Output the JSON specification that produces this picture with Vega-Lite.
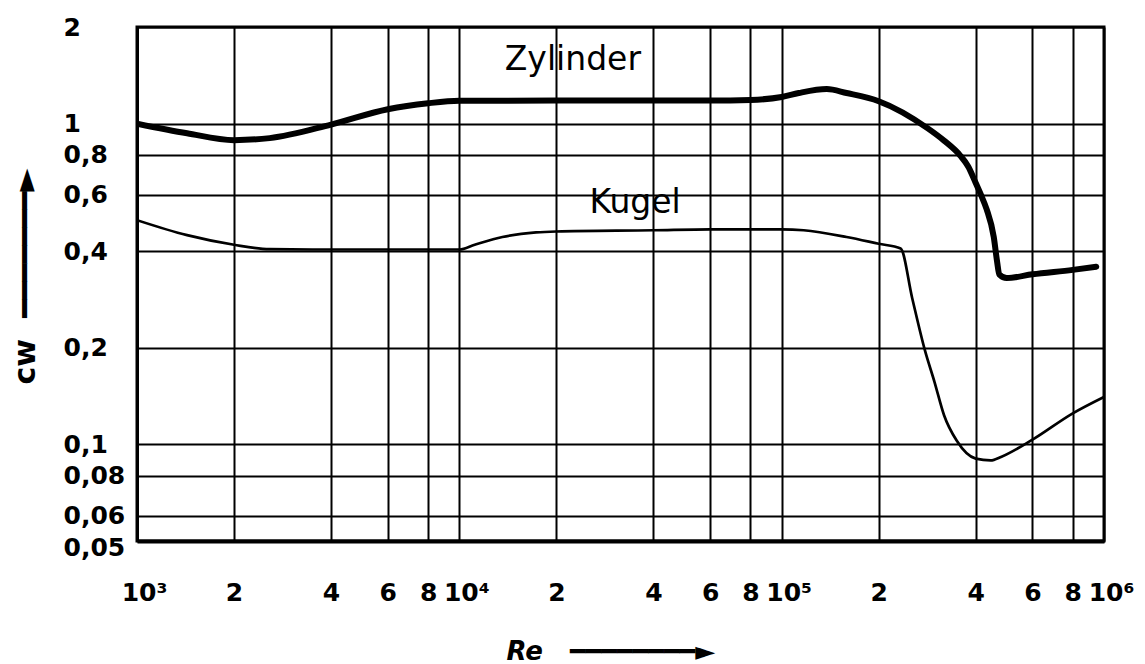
{
  "$schema": "https://vega.github.io/schema/vega-lite/v6.json",
  "width": 967,
  "height": 514,
  "autosize": {"type": "none"},
  "padding": {"left": 137, "top": 27, "right": 41, "bottom": 123},
  "background": "white",
  "config": {
    "view": {"stroke": "black", "strokeWidth": 3},
    "font": "DejaVu Sans"
  },
  "datasets": {
    "curves": [
      {"series": "Zylinder", "Re": 1000, "cw": 1.0},
      {"series": "Zylinder", "Re": 1430, "cw": 0.933},
      {"series": "Zylinder", "Re": 2000, "cw": 0.888},
      {"series": "Zylinder", "Re": 2580, "cw": 0.901},
      {"series": "Zylinder", "Re": 4000, "cw": 0.993},
      {"series": "Zylinder", "Re": 6000, "cw": 1.108},
      {"series": "Zylinder", "Re": 8000, "cw": 1.157},
      {"series": "Zylinder", "Re": 10000, "cw": 1.178},
      {"series": "Zylinder", "Re": 20000, "cw": 1.18},
      {"series": "Zylinder", "Re": 40000, "cw": 1.18},
      {"series": "Zylinder", "Re": 60000, "cw": 1.18},
      {"series": "Zylinder", "Re": 80000, "cw": 1.185},
      {"series": "Zylinder", "Re": 100000, "cw": 1.21},
      {"series": "Zylinder", "Re": 113000, "cw": 1.245},
      {"series": "Zylinder", "Re": 138000, "cw": 1.281},
      {"series": "Zylinder", "Re": 159000, "cw": 1.245},
      {"series": "Zylinder", "Re": 200000, "cw": 1.174},
      {"series": "Zylinder", "Re": 284000, "cw": 0.966},
      {"series": "Zylinder", "Re": 319000, "cw": 0.885},
      {"series": "Zylinder", "Re": 358000, "cw": 0.795},
      {"series": "Zylinder", "Re": 379000, "cw": 0.735},
      {"series": "Zylinder", "Re": 400000, "cw": 0.653},
      {"series": "Zylinder", "Re": 416000, "cw": 0.597},
      {"series": "Zylinder", "Re": 432000, "cw": 0.542},
      {"series": "Zylinder", "Re": 455000, "cw": 0.443},
      {"series": "Zylinder", "Re": 466000, "cw": 0.371},
      {"series": "Zylinder", "Re": 473000, "cw": 0.339},
      {"series": "Zylinder", "Re": 499000, "cw": 0.33},
      {"series": "Zylinder", "Re": 600000, "cw": 0.339},
      {"series": "Zylinder", "Re": 800000, "cw": 0.35},
      {"series": "Zylinder", "Re": 946000, "cw": 0.358},
      {"series": "Kugel", "Re": 1000, "cw": 0.5},
      {"series": "Kugel", "Re": 1430, "cw": 0.449},
      {"series": "Kugel", "Re": 2000, "cw": 0.419},
      {"series": "Kugel", "Re": 2580, "cw": 0.406},
      {"series": "Kugel", "Re": 4000, "cw": 0.405},
      {"series": "Kugel", "Re": 6000, "cw": 0.405},
      {"series": "Kugel", "Re": 8000, "cw": 0.405},
      {"series": "Kugel", "Re": 10000, "cw": 0.405},
      {"series": "Kugel", "Re": 11160, "cw": 0.419},
      {"series": "Kugel", "Re": 13600, "cw": 0.443},
      {"series": "Kugel", "Re": 17300, "cw": 0.458},
      {"series": "Kugel", "Re": 20000, "cw": 0.461},
      {"series": "Kugel", "Re": 40000, "cw": 0.465},
      {"series": "Kugel", "Re": 60000, "cw": 0.468},
      {"series": "Kugel", "Re": 100000, "cw": 0.468},
      {"series": "Kugel", "Re": 117000, "cw": 0.465},
      {"series": "Kugel", "Re": 159000, "cw": 0.443},
      {"series": "Kugel", "Re": 200000, "cw": 0.422},
      {"series": "Kugel", "Re": 234000, "cw": 0.408},
      {"series": "Kugel", "Re": 254000, "cw": 0.286},
      {"series": "Kugel", "Re": 278000, "cw": 0.197},
      {"series": "Kugel", "Re": 298000, "cw": 0.1565},
      {"series": "Kugel", "Re": 319000, "cw": 0.1233},
      {"series": "Kugel", "Re": 349000, "cw": 0.1028},
      {"series": "Kugel", "Re": 400000, "cw": 0.0903},
      {"series": "Kugel", "Re": 445000, "cw": 0.0892},
      {"series": "Kugel", "Re": 481000, "cw": 0.0916},
      {"series": "Kugel", "Re": 600000, "cw": 0.1035},
      {"series": "Kugel", "Re": 800000, "cw": 0.125},
      {"series": "Kugel", "Re": 1000000, "cw": 0.1406}
    ],
    "labels": [
      {"label": "Zylinder", "Re": 22500, "cw": 1.469},
      {"label": "Kugel", "Re": 35100, "cw": 0.526}
    ]
  },
  "layer": [
    {
      "data": {"name": "curves"},
      "mark": {"type": "line", "interpolate": "monotone", "color": "black", "strokeCap": "round", "strokeJoin": "round", "clip": true},
      "encoding": {
        "x": {
          "field": "Re", "type": "quantitative",
          "scale": {"type": "log", "domain": [1000, 1000000], "nice": false},
          "axis": {
            "values": [1000, 2000, 4000, 6000, 8000, 10000, 20000, 40000, 60000, 80000, 100000, 200000, 400000, 600000, 800000, 1000000],
            "labelExpr": "datum.value == 1000 ? '10³' : datum.value == 10000 ? '10⁴' : datum.value == 100000 ? '10⁵' : datum.value == 1000000 ? '10⁶' : '' + round(datum.value / pow(10, floor(log(datum.value * 1.0001) / LN10)))",
            "labelOffset": {"condition": {"test": "datum.value == 1000 || datum.value == 10000 || datum.value == 100000 || datum.value == 1000000", "value": 7}, "value": 0},
            "labelFont": "DejaVu Sans",
            "labelFontWeight": "bold",
            "labelFontSize": 25,
            "labelColor": "black",
            "labelBaseline": "middle",
            "labelPadding": 51,
            "labelFlush": false,
            "labelOverlap": false,
            "ticks": false,
            "domain": true,
            "domainColor": "black",
            "domainWidth": 4,
            "grid": true,
            "gridColor": "black",
            "gridWidth": 2,
            "gridOpacity": 1,
            "title": "Re\u00a0\u00a0\u00a0━━━━━━━━►",
            "titleFont": "DejaVu Sans",
            "titleFontStyle": "italic",
            "titleFontWeight": "bold",
            "titleFontSize": 26,
            "titleColor": "black",
            "titleAlign": "left",
            "titleBaseline": "middle",
            "titleX": 369,
            "titleY": 110
          }
        },
        "y": {
          "field": "cw", "type": "quantitative",
          "scale": {"type": "log", "domain": [0.05, 2], "nice": false},
          "axis": {
            "values": [0.05, 0.06, 0.08, 0.1, 0.2, 0.4, 0.6, 0.8, 1, 2],
            "labelExpr": "replace('' + datum.value, '.', ',')",
            "labelOffset": {"condition": {"test": "datum.value < 0.055", "value": 6}, "value": 0},
            "labelFont": "DejaVu Sans",
            "labelFontWeight": "bold",
            "labelFontSize": 25,
            "labelColor": "black",
            "labelAlign": "left",
            "labelBaseline": "middle",
            "labelPadding": 74,
            "labelFlush": false,
            "labelOverlap": false,
            "ticks": false,
            "domain": true,
            "domainColor": "black",
            "domainWidth": 3,
            "grid": true,
            "gridColor": "black",
            "gridWidth": 2,
            "gridOpacity": 1,
            "title": "cw\u00a0\u00a0━━━━━━━►",
            "titleFont": "DejaVu Sans",
            "titleFontWeight": "bold",
            "titleFontSize": 30,
            "titleColor": "black",
            "titleAngle": 270,
            "titleAlign": "center",
            "titleBaseline": "middle",
            "titleX": -112,
            "titleY": 249
          }
        },
        "detail": {"field": "series"},
        "strokeWidth": {
          "field": "series", "type": "nominal",
          "scale": {"domain": ["Zylinder", "Kugel"], "range": [6, 2.7]},
          "legend": null
        }
      }
    },
    {
      "data": {"name": "labels"},
      "mark": {"type": "text", "font": "DejaVu Sans", "fontSize": 33, "color": "black", "align": "center", "baseline": "alphabetic"},
      "encoding": {
        "x": {"field": "Re", "type": "quantitative"},
        "y": {"field": "cw", "type": "quantitative"},
        "text": {"field": "label"}
      }
    }
  ]
}
